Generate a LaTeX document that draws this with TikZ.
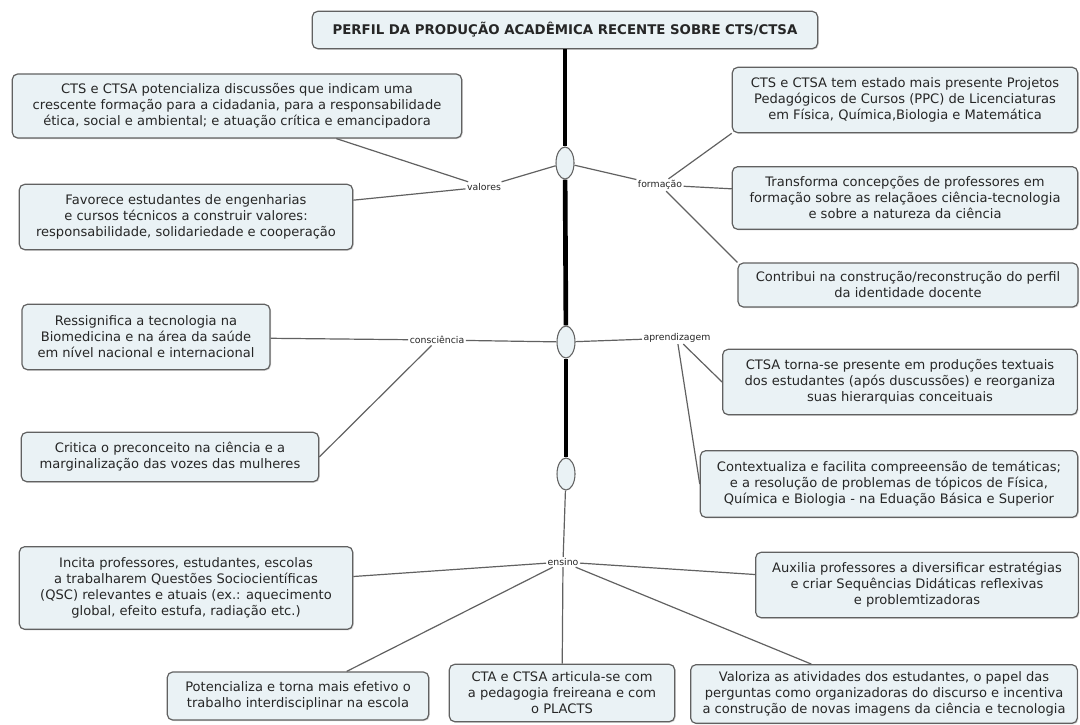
\documentclass[tikz,border=0pt]{standalone}
\usepackage{fontspec}
\setmainfont{DejaVu Sans}
\usepackage{xcolor}
\definecolor{colorFill}{HTML}{EAF2F5}
\colorlet{colorLine}{black!62}
\colorlet{colorText}{black!85}
\usepackage{tikz}
\usetikzlibrary{shapes.geometric, shadows}
\tikzset{box/.style={draw=colorLine, fill=colorFill, line width=0.9pt, rounded corners=4pt,
    align=center, inner sep=2pt, text=colorText, font=\fontsize{9.8}{12}\selectfont,
    drop shadow={shadow xshift=0.8pt, shadow yshift=-0.8pt, opacity=0.3}}}

\begin{document}
\begin{tikzpicture}[x=0.75pt, y=-0.75pt, link/.style={draw=colorLine, line width=0.9pt},
  tag/.style={fill=white, inner sep=1pt, text=colorText, font=\fontsize{7}{8}\selectfont},
  knot/.style={ellipse, draw=colorLine, fill=colorFill, line width=0.8pt, minimum width=13.5pt, minimum height=24pt, inner sep=0pt}]
\useasboundingbox (0,0) rectangle (1080,724);
\node[box, minimum width=379pt, minimum height=28pt, font=\bfseries\fontsize{10}{12}\selectfont] (t0) at (565,30) {PERFIL DA PRODUÇÃO ACADÊMICA RECENTE SOBRE CTS/CTSA};
\node[knot] (o1) at (565,163) {};
\node[knot] (o2) at (566,342) {};
\node[knot] (o3) at (566,474) {};
\node[tag] (valores) at (484,187) {valores};
\node[tag] (formacao) at (660,185) {formação};
\node[tag] (consciencia) at (437,340) {consciência};
\node[tag] (aprendizagem) at (677,338) {aprendizagem};
\node[tag] (ensino) at (563,562) {ensino};
% caixas da esquerda
\node[box, minimum width=337pt, minimum height=48pt] (b1) at (237,106) {CTS e CTSA potencializa discussões que indicam uma\\crescente formação para a cidadania, para a responsabilidade\\ética, social e ambiental; e atuação crítica e emancipadora};
\node[box, minimum width=250pt, minimum height=49pt] (b2) at (186,217) {Favorece estudantes de engenharias\\e cursos técnicos a construir valores:\\responsabilidade, solidariedade e cooperação};
\node[box, minimum width=186pt, minimum height=49pt] (b6) at (146,337) {Ressignifica a tecnologia na\\Biomedicina e na área da saúde\\em nível nacional e internacional};
\node[box, minimum width=223pt, minimum height=37pt] (b7) at (170,457) {Critica o preconceito na ciência e a\\marginalização das vozes das mulheres};
\node[box, minimum width=250pt, minimum height=62pt] (b10) at (186,588) {Incita professores, estudantes, escolas\\a trabalharem Questões Sociocientíficas\\(QSC) relevantes e atuais (ex.: aquecimento\\global, efeito estufa, radiação etc.)};
% caixas da direita
\node[box, minimum width=259pt, minimum height=49pt] (b3) at (905,100) {CTS e CTSA tem estado mais presente Projetos\\Pedagógicos de Cursos (PPC) de Licenciaturas\\em Física, Química,Biologia e Matemática};
\node[box, minimum width=259pt, minimum height=47pt] (b4) at (905,198) {Transforma concepções de professores em\\formação sobre as relaçãoes ciência-tecnologia\\e sobre a natureza da ciência};
\node[box, minimum width=255pt, minimum height=33pt] (b5) at (908,285) {Contribui na construção/reconstrução do perfil\\da identidade docente};
\node[box, minimum width=266pt, minimum height=49pt] (b8) at (900,382) {CTSA torna-se presente em produções textuais\\dos estudantes (após duscussões) e reorganiza\\suas hierarquias conceituais};
\node[box, minimum width=283pt, minimum height=50pt] (b9) at (889,484) {Contextualiza e facilita compreeensão de temáticas;\\e a resolução de problemas de tópicos de Física,\\Química e Biologia - na Eduação Básica e Superior};
\node[box, minimum width=242pt, minimum height=49pt] (b11) at (917,585) {Auxilia professores a diversificar estratégias\\e criar Sequências Didáticas reflexivas\\e problemtizadoras};
% caixas de baixo
\node[box, minimum width=196pt, minimum height=36pt] (b12) at (298,696) {Potencializa e torna mais efetivo o\\trabalho interdisciplinar na escola};
\node[box, minimum width=169pt, minimum height=43pt] (b13) at (562,693) {CTA e CTSA articula-se com\\a pedagogia freireana e com\\o PLACTS};
\node[box, minimum width=290pt, minimum height=44pt] (b14) at (884,694) {Valoriza as atividades dos estudantes, o papel das\\perguntas como organizadoras do discurso e incentiva\\a construção de novas imagens da ciência e tecnologia};
% eixo central
\draw [line width=3.5pt] (t0) -- (o1);
\draw [line width=3.5pt] (o1) -- (o2);
\draw [line width=3.5pt] (o2) -- (o3);
\draw [link] (o3) -- (ensino);
% ligacoes
\draw [link] (o1) edge (valores);
\draw [link] (o1) edge (formacao);
\draw [link] (valores) edge (b1);
\draw [link] (valores) edge (b2);
\draw [link] (formacao) edge (b3.south west);
\draw [link] (formacao) edge (b4);
\draw [link] (formacao) edge (b5.north west);
\draw [link] (o2) edge (consciencia);
\draw [link] (o2) edge (aprendizagem);
\draw [link] (consciencia) edge (b6);
\draw [link] (consciencia) edge (b7.east);
\draw [link] (aprendizagem) edge (b8.west);
\draw [link] (aprendizagem) edge (b9.west);
\draw [link] (ensino) edge (b10);
\draw [link] (ensino) edge (b11);
\draw [link] (ensino) edge (b12);
\draw [link] (ensino) edge (b13);
\draw [link] (ensino) edge (b14);
\end{tikzpicture}
\end{document}
